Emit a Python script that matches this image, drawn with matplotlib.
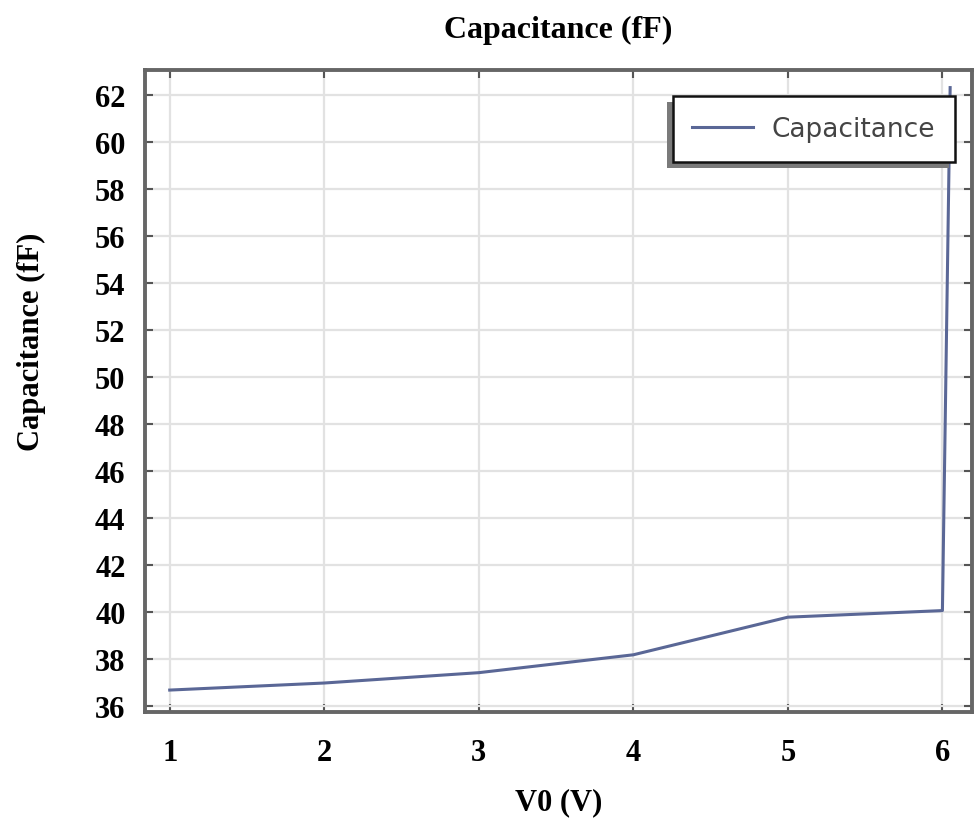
import matplotlib
matplotlib.use('Agg')
import matplotlib.pyplot as plt
from matplotlib.patches import Rectangle

# V0 (V) vs capacitance (fF)
v0 = [1.0, 2.0, 3.0, 4.0, 5.0, 6.0, 6.05]
cap = [36.68, 36.98, 37.42, 38.18, 39.78, 40.06, 62.3]
yticks = list(range(36, 63, 2))
xticks = [1, 2, 3, 4, 5, 6]

serif = {'family': 'Liberation Serif', 'weight': 'bold'}

fig = plt.figure(figsize=(9.75, 8.29), dpi=100)
ax = fig.add_axes([0.1487, 0.140, 0.848, 0.7744])

ax.plot(v0, cap, color='#5a6796', lw=2.2, label='Capacitance')

ax.set_xlim(0.84, 6.19)
ax.set_ylim(35.75, 63.05)
ax.set_xticks(xticks)
ax.set_yticks(yticks)
ax.grid(True, color='#e2e2e2', lw=1.6)
ax.set_axisbelow(True)

ax.tick_params(direction='in', length=6, width=1.5, color='#555555',
               top=True, right=True, labelsize=22)
for lab in ax.get_xticklabels() + ax.get_yticklabels():
    lab.set_fontfamily('Liberation Serif')
    lab.set_fontweight('bold')
ax.tick_params(axis='x', pad=19)
ax.tick_params(axis='y', pad=14)
for s in ax.spines.values():
    s.set_color('#666666')
    s.set_linewidth(2.8)

ax.set_title('Capacitance (fF)', fontdict=serif, fontsize=23, pad=24)
ax.set_xlabel('V0 (V)', fontdict=serif, fontsize=22, labelpad=14)
ax.set_ylabel('Capacitance (fF)', fontdict=serif, fontsize=22)
ax.yaxis.set_label_coords(-0.12, 0.578)

leg = ax.legend(loc='upper right', bbox_to_anchor=(0.9794, 0.9595), borderaxespad=0,
                fancybox=False, shadow=False, framealpha=1, borderpad=0.75,
                handlelength=2.3, handletextpad=0.7,
                prop={'family': 'DejaVu Sans', 'size': 19})
leg.get_frame().set_edgecolor('#111111')
leg.get_frame().set_linewidth(1.8)
for t in leg.get_texts():
    t.set_color('#444444')
leg.set_zorder(5)

# shadow down-left of the legend box
fig.canvas.draw()
bb = leg.get_window_extent()
ax.add_artist(Rectangle((bb.x0 - 6, bb.y0 - 6), bb.width, bb.height,
                        transform=None, facecolor='#7a7a7a', edgecolor='none',
                        zorder=4.5))

fig.savefig('out.png', dpi=100)
